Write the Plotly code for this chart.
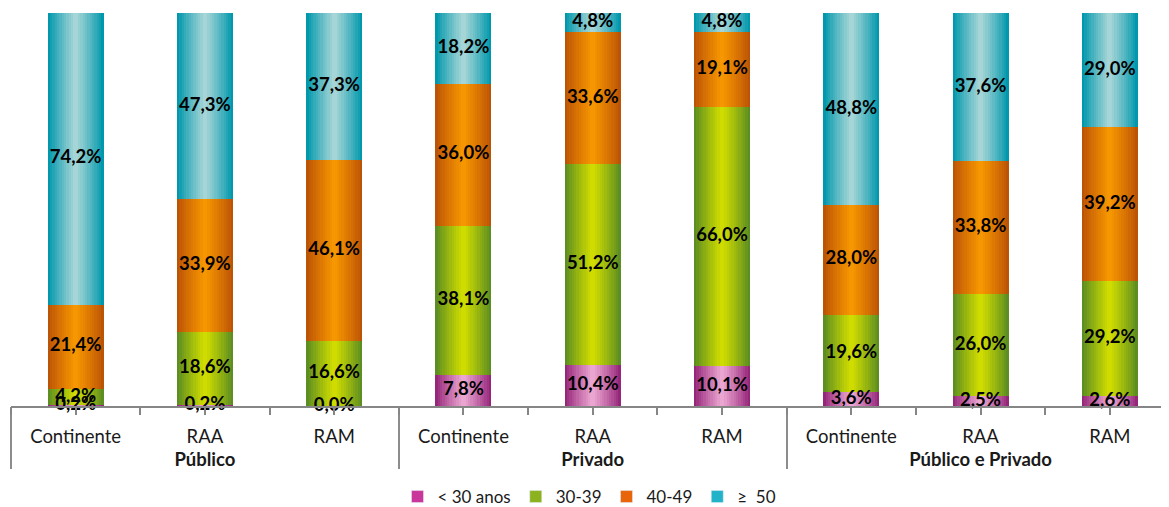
import plotly.graph_objects as go

groups = ["Público"] * 3 + ["Privado"] * 3 + ["Público e Privado"] * 3
regions = ["Continente", "RAA", "RAM"] * 3

series_names = ["< 30 anos", "30-39", "40-49", "≥  50"]
v_lt30 = [0.2, 0.2, 0.0, 7.8, 10.4, 10.1, 3.6, 2.5, 2.6]
v_30_39 = [4.2, 18.6, 16.6, 38.1, 51.2, 66.0, 19.6, 26.0, 29.2]
v_40_49 = [21.4, 33.9, 46.1, 36.0, 33.6, 19.1, 28.0, 33.8, 39.2]
v_ge50 = [74.2, 47.3, 37.3, 18.2, 4.8, 4.8, 48.8, 37.6, 29.0]
values = [v_lt30, v_30_39, v_40_49, v_ge50]

legend_colors = ["#c9379a", "#8cb21e", "#e8650a", "#22b3c9"]
edge_colors = [(150, 38, 122), (92, 142, 34), (188, 84, 6), (0, 152, 172)]
center_colors = [(234, 165, 208), (208, 220, 0), (246, 150, 0), (165, 213, 214)]

FONT = "Lato"
BAR_W = 0.433
N_LAYERS = 12
XR = [-0.5, 8.45]
W, H = 1161, 499  # page body adds an 8px offset
AXIS_GREY = "#868686"

fig = go.Figure()
xpos = list(range(len(regions)))

# group structure derived from the category lists
group_names = []
for g in groups:
    if g not in group_names:
        group_names.append(g)
group_centers = [sum(i for i, g in enumerate(groups) if g == name) / groups.count(name)
                 for name in group_names]
group_bounds = [-0.5] + [i - 0.5 for i in range(1, len(groups)) if groups[i] != groups[i - 1]] \
               + [len(groups) - 0.5]


def mix(a, b, t):
    return "rgb(%d,%d,%d)" % tuple(round(a[i] + (b[i] - a[i]) * t) for i in range(3))


# gradient layers (cylinder shading)
for k in range(N_LAYERS):
    t = k / (N_LAYERS - 1)
    w = BAR_W * (1 - k / N_LAYERS)
    axis = "x" if k == 0 else "x%d" % (k + 1)
    for s in range(4):
        fig.add_trace(go.Bar(
            x=xpos, y=values[s], width=w,
            marker=dict(color=mix(edge_colors[s], center_colors[s], t ** 0.9), line=dict(width=0)),
            xaxis=axis, yaxis="y", showlegend=False, hoverinfo="skip",
        ))

# value labels, centred in each stacked segment
lab_axis = "x%d" % (N_LAYERS + 1)
base = [0.0] * len(regions)
for s in range(4):
    mids = [b + v / 2 for b, v in zip(base, values[s])]
    base = [b + v for b, v in zip(base, values[s])]
    fig.add_trace(go.Scatter(
        x=xpos, y=mids, mode="text",
        text=["<b>" + ("%.1f%%" % v).replace(".", ",") + "</b>" for v in values[s]],
        textposition="middle center", cliponaxis=False,
        textfont=dict(family=FONT, size=18.5, color="#000000"),
        xaxis=lab_axis, yaxis="y", showlegend=False, hoverinfo="skip",
    ))

# legend entries
for s in range(4):
    fig.add_trace(go.Bar(x=[None], y=[None], name=series_names[s],
                         marker=dict(color=legend_colors[s]), showlegend=True))

base_ax = dict(range=XR, showgrid=False, zeroline=False, automargin=False,
               showline=False, ticks="", showticklabels=False)

layout = dict(
    width=W, height=H,
    margin=dict(l=3, r=1, t=5, b=101, autoexpand=False),
    barmode="stack",
    paper_bgcolor="white", plot_bgcolor="white",
    font=dict(family=FONT, size=18, color="#1a1a1a"),
    # category labels (first row) + axis line
    xaxis=dict(base_ax, showline=True, linecolor=AXIS_GREY, linewidth=2,
               tickmode="array", tickvals=xpos, ticktext=regions, showticklabels=True,
               ticklabelstandoff=13,
               tickfont=dict(family=FONT, size=18.5, color="#1a1a1a")),
    yaxis=dict(range=[0, 100], visible=False, showgrid=False, zeroline=False, automargin=False),
    legend=dict(orientation="h", x=0.5, xanchor="center", xref="paper",
                y=(H - 489) / H, yanchor="middle", yref="container",
                font=dict(family=FONT, size=17, color="#1a1a1a"), traceorder="normal",
                itemclick=False),
)
for k in range(2, N_LAYERS + 2):
    layout["xaxis%d" % k] = dict(base_ax, overlaying="x", anchor="y")

# group dividers
layout["xaxis2"].update(ticks="outside", tickmode="array", tickvals=group_bounds,
                        ticklen=62, tickwidth=2, tickcolor="#8c8c8c")
# group labels (second row)
layout["xaxis3"].update(tickmode="array", tickvals=group_centers,
                        ticktext=["<b>%s</b>" % g for g in group_names], showticklabels=True,
                        ticklabelstandoff=40,
                        tickfont=dict(family=FONT, size=18.5, color="#1a1a1a"))
# fine ticks at category centres and boundaries
layout["xaxis%d" % (N_LAYERS + 1)].update(ticks="outside", tick0=-0.5, dtick=0.5, ticklen=8,
                                          tickwidth=1.5, tickcolor=AXIS_GREY, tickmode="linear")

fig.update_layout(**layout)
fig.write_html("out.html")
